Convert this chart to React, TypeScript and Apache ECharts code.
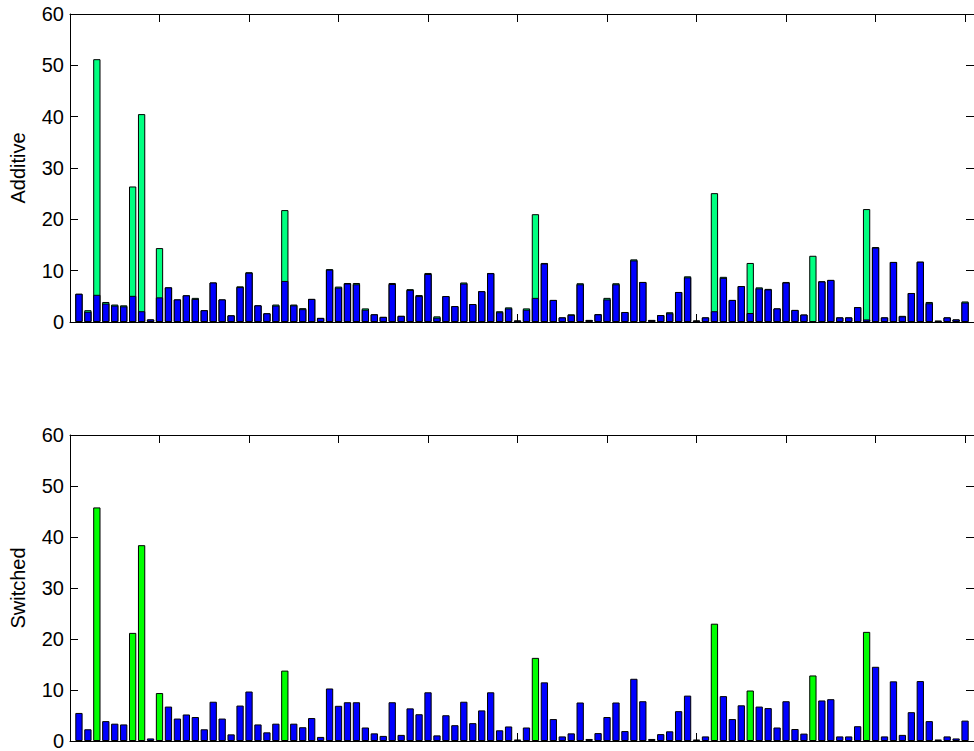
import React, { useEffect, useRef } from "react";
import * as echarts from "echarts";

// Top panel ("Additive"): blue part and green part stacked, bars 1..100
const additiveBlue = [
  5.5, 2.0, 5.3, 3.6, 3.2, 3.05, 5.1, 2.1, 0.5, 4.8,
  6.75, 4.4, 5.2, 4.5, 2.3, 7.7, 4.4, 1.3, 6.8, 9.6,
  3.25, 1.7, 3.2, 8.0, 3.25, 2.5, 4.5, 0.8, 10.2, 6.7,
  7.5, 7.35, 2.4, 1.5, 1.0, 7.4, 1.2, 6.25, 5.05, 9.35,
  0.85, 5.05, 3.1, 7.5, 3.5, 6.0, 9.5, 1.9, 2.65, 0.3,
  2.4, 4.7, 11.4, 4.3, 0.9, 1.4, 7.35, 0.4, 1.5, 4.4,
  7.35, 1.95, 12.0, 7.8, 0.4, 1.35, 1.7, 5.85, 8.7, 0.3,
  0.9, 2.1, 8.6, 4.3, 7.0, 1.75, 6.55, 6.35, 2.65, 7.7,
  2.35, 1.45, 0.2, 7.9, 8.2, 0.9, 0.9, 2.9, 0.5, 14.5,
  0.9, 11.7, 1.1, 5.65, 11.75, 3.65, 0.2, 0.9, 0.5, 3.8,
];
const additiveGreen = [
  0, 0.3, 45.9, 0.3, 0.2, 0.2, 21.3, 38.4, 0, 9.6,
  0, 0, 0, 0.2, 0, 0, 0, 0, 0.15, 0.1,
  0, 0, 0.2, 13.8, 0.15, 0.2, 0, 0, 0.1, 0.2,
  0.1, 0.25, 0.25, 0, 0, 0.2, 0, 0.15, 0.2, 0.2,
  0.25, 0, 0, 0.2, 0, 0, 0.05, 0.2, 0.2, 0,
  0.25, 16.3, 0.1, 0, 0, 0.1, 0.2, 0, 0.05, 0.3,
  0.2, 0, 0.2, 0, 0, 0, 0.2, 0, 0.2, 0,
  0, 23.0, 0.2, 0, 0, 9.75, 0.2, 0.1, 0, 0.1,
  0, 0, 12.7, 0.05, 0, 0, 0, 0, 21.5, 0.1,
  0, 0, 0.1, 0, 0, 0.25, 0.1, 0, 0, 0.2,
];

// Bottom panel ("Switched"): one value per bar; listed positions are drawn green
const switchedValues = [
  5.5, 2.3, 45.8, 3.9, 3.4, 3.25, 21.2, 38.4, 0.5, 9.4,
  6.75, 4.4, 5.2, 4.7, 2.3, 7.7, 4.4, 1.3, 6.95, 9.7,
  3.25, 1.7, 3.4, 13.8, 3.4, 2.7, 4.5, 0.8, 10.3, 6.9,
  7.6, 7.6, 2.65, 1.5, 1.0, 7.6, 1.2, 6.4, 5.25, 9.55,
  1.1, 5.05, 3.1, 7.7, 3.5, 6.0, 9.55, 2.1, 2.85, 0.3,
  2.65, 16.3, 11.5, 4.3, 0.9, 1.5, 7.55, 0.4, 1.55, 4.7,
  7.55, 1.95, 12.2, 7.8, 0.4, 1.35, 1.9, 5.85, 8.9, 0.3,
  0.9, 23.0, 8.8, 4.3, 7.0, 9.9, 6.75, 6.45, 2.65, 7.8,
  2.35, 1.45, 12.85, 7.95, 8.2, 0.9, 0.9, 2.9, 21.4, 14.55,
  0.9, 11.7, 1.2, 5.65, 11.75, 3.9, 0.3, 0.9, 0.5, 4.0,
];
const switchedGreenPositions = [3, 7, 8, 10, 24, 52, 72, 76, 83, 89];

const yTicks = { min: 0, max: 60, interval: 10 };
const xRange = { min: 0, max: 101, interval: 10 };

const FONT = "'Liberation Sans', Arial, Helvetica, sans-serif";
const BLUE = "#0000ff";
const GREEN_ADD = "#00ff80";
const GREEN_SW = "#00ff00";

export default function App() {
  const ref = useRef<HTMLDivElement>(null);

  useEffect(() => {
    if (!ref.current) return;
    const chart = echarts.init(ref.current, null, { renderer: "svg" });

    const pos = additiveBlue.map((_, i) => i + 1);
    // green segment sits on top of the blue part: draw full-height green bar, blue bar over it
    const topTotal = pos.map((x, i) => [x, +(additiveBlue[i] + additiveGreen[i]).toFixed(3)]);
    const topBlue = pos.map((x, i) => [x, additiveBlue[i]]);
    const bottom = pos.map((x, i) => ({
      value: [x, switchedValues[i]],
      itemStyle: { color: switchedGreenPositions.includes(x) ? GREEN_SW : BLUE },
    }));

    const lineStyle = { color: "#000", width: 1 };
    const xAxisBase = (gridIndex: number, position: "top" | "bottom") => ({
      type: "value" as const,
      gridIndex,
      position,
      ...xRange,
      axisLine: { show: true, onZero: false, lineStyle },
      axisTick: { show: true, inside: true, length: 8, lineStyle },
      axisLabel: { show: false },
      splitLine: { show: false },
    });
    const yAxisBase = (gridIndex: number, position: "left" | "right", name: string) => ({
      type: "value" as const,
      gridIndex,
      position,
      ...yTicks,
      name,
      nameLocation: "middle" as const,
      nameGap: 42,
      nameTextStyle: { fontFamily: FONT, fontSize: 20, color: "#000" },
      axisLine: { show: true, onZero: false, lineStyle },
      axisTick: { show: true, inside: true, length: 8, lineStyle },
      axisLabel: {
        show: position === "left",
        fontFamily: FONT,
        fontSize: 20,
        color: "#000",
        margin: 6,
      },
      splitLine: { show: false },
    });

    const barBase = {
      type: "bar" as const,
      barWidth: 7.3,
      barGap: "-100%",
      emphasis: { disabled: true },
    };
    const edge = { borderColor: "#000", borderWidth: 1 };

    chart.setOption({
      animation: false,
      grid: [
        { left: 68, top: 14, width: 909, height: 308 },
        { left: 68, top: 435, width: 909, height: 308 },
      ],
      xAxis: [
        xAxisBase(0, "bottom"),
        xAxisBase(0, "top"),
        xAxisBase(1, "bottom"),
        xAxisBase(1, "top"),
      ],
      yAxis: [
        yAxisBase(0, "left", "Additive"),
        yAxisBase(0, "right", ""),
        yAxisBase(1, "left", "Switched"),
        yAxisBase(1, "right", ""),
      ],
      series: [
        { ...barBase, name: "additive-green", xAxisIndex: 0, yAxisIndex: 0, data: topTotal, itemStyle: { ...edge, color: GREEN_ADD } },
        { ...barBase, name: "additive-blue", xAxisIndex: 0, yAxisIndex: 0, data: topBlue, itemStyle: { ...edge, color: BLUE } },
        { ...barBase, name: "switched", xAxisIndex: 2, yAxisIndex: 2, data: bottom, itemStyle: { ...edge } },
      ],
    });

    return () => chart.dispose();
  }, []);

  return (
    <div
      ref={ref}
      style={{ position: "fixed", left: 0, top: 0, width: 974, height: 751, background: "#fff" }}
    />
  );
}
